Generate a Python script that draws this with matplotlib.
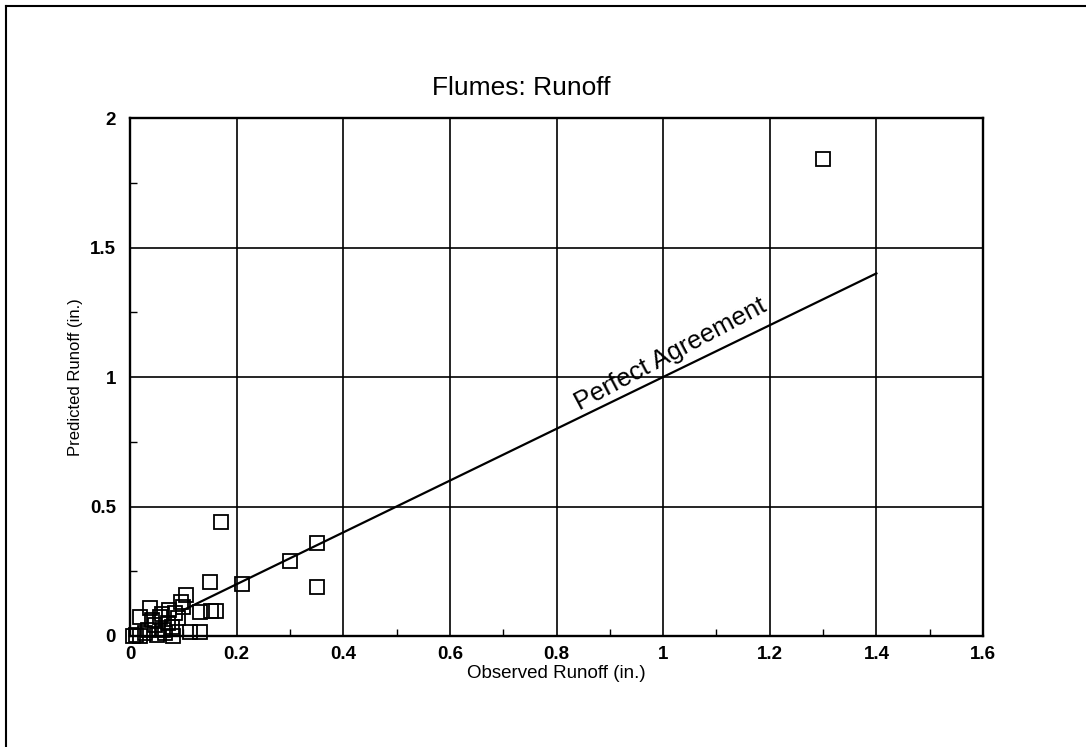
import matplotlib
matplotlib.use("Agg")
import matplotlib.pyplot as plt
from matplotlib.lines import Line2D
import numpy as np

plt.rcParams['font.family'] = ['Liberation Sans', 'DejaVu Sans']

# Observed vs predicted runoff (in.)
observed = [1.30, 0.17, 0.35, 0.30, 0.35, 0.21, 0.15, 0.105,
            0.152, 0.161, 0.131, 0.100, 0.073, 0.037, 0.019, 0.056,
            0.090, 0.047, 0.071, 0.034, 0.062, 0.113, 0.131, 0.081,
            0.006, 0.019, 0.051, 0.085, 0.060, 0.028, 0.012, 0.042,
            0.095, 0.078, 0.066]
predicted = [1.84, 0.44, 0.36, 0.29, 0.19, 0.20, 0.21, 0.16,
             0.097, 0.097, 0.093, 0.112, 0.100, 0.108, 0.073, 0.073,
             0.070, 0.042, 0.050, 0.023, 0.023, 0.015, 0.015, 0.000,
             0.000, 0.000, 0.004, 0.090, 0.085, 0.010, 0.005, 0.060,
             0.130, 0.035, 0.012]

line_x = [0.1, 1.4]
line_y = [0.1, 1.4]

x_ticks = [0, 0.2, 0.4, 0.6, 0.8, 1.0, 1.2, 1.4, 1.6]
x_labels = ["0", "0.2", "0.4", "0.6", "0.8", "1", "1.2", "1.4", "1.6"]
y_ticks = [0, 0.5, 1.0, 1.5, 2.0]
y_labels = ["0", "0.5", "1", "1.5", "2"]

fig = plt.figure(figsize=(10.86, 7.47), dpi=100)
ax = fig.add_axes([130/1086, 1-636/747, (983-130)/1086, (636-118)/747])

ax.set_xlim(0, 1.6)
ax.set_ylim(0, 2)
ax.set_xticks(x_ticks)
ax.set_xticklabels(x_labels, fontsize=13.5, fontweight='bold')
ax.set_yticks(y_ticks)
ax.set_yticklabels(y_labels, fontsize=13.5, fontweight='bold')
ax.set_xticks(np.arange(0.1, 1.6, 0.2), minor=True)
ax.set_yticks(np.arange(0.25, 2.0, 0.5), minor=True)
ax.tick_params(which='both', direction='in', color='black')
ax.tick_params(axis='x', which='major', length=0, pad=7)
ax.tick_params(axis='y', which='major', length=0, pad=10)
ax.tick_params(which='minor', length=5, width=1)
ax.grid(True, which='major', color='black', linewidth=1.2)
for s in ax.spines.values():
    s.set_linewidth(1.7)
    s.set_color('black')

ax.plot(line_x, line_y, color='black', linewidth=1.6, zorder=3)
ax.plot(observed, predicted, linestyle='none', marker='s', markersize=9.5,
        markerfacecolor='none', markeredgecolor='black', markeredgewidth=1.3,
        zorder=4, clip_on=False)

ax.text(1.025, 1.045, "Perfect Agreement", rotation=28, fontsize=18.5,
        ha='center', va='bottom', rotation_mode='anchor')

fig.text(521/1086, 1-88/747, "Flumes: Runoff", fontsize=19, ha='center', va='center')
ax.set_xlabel("Observed Runoff (in.)", fontsize=13.5, labelpad=2)
ax.set_ylabel("Predicted Runoff (in.)", fontsize=12, labelpad=5)

# figure frame (top and left edges)
fig.add_artist(Line2D([6/1086, 1.0], [1-6/747, 1-6/747], transform=fig.transFigure,
                      color='black', linewidth=1.5))
fig.add_artist(Line2D([6/1086, 6/1086], [0, 1-6/747], transform=fig.transFigure,
                      color='black', linewidth=1.5))

fig.savefig("out.png", dpi=100)
